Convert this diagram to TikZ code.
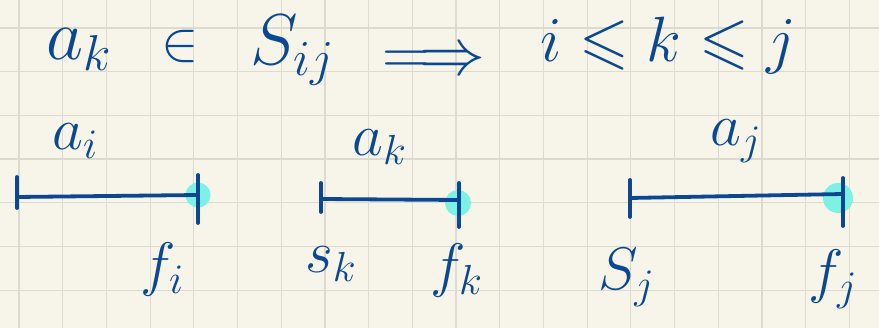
\RequirePackage{fix-cm}
\documentclass[tikz,border=0pt]{standalone}
\usepackage{amssymb}
\definecolor{paper}{RGB}{247,245,234}
\definecolor{gridline}{RGB}{221,218,207}
\definecolor{ink}{RGB}{12,72,145}
\definecolor{marker}{RGB}{125,242,228}
\begin{document}
\begin{tikzpicture}[x=1pt,y=-1pt,
  handtext/.style={text=ink, inner sep=0pt},
  headline/.style={font=\fontsize{72}{80}\selectfont},
  lbl/.style={font=\fontsize{60}{66}\selectfont},
  interval/.style={draw=ink, line width=3.8pt, line cap=round},
  gridrule/.style={draw=gridline, line width=1.2pt}]

% paper and squared grid
\fill[paper] (0,0) rectangle (879,328);
\useasboundingbox (0,0) rectangle (879,328);
\foreach \k in {0,...,19}
  \draw[gridrule] ({19+43.7*\k},0) -- ({19+43.7*\k},328);
\foreach \k in {0,...,6}
  \draw[gridrule] (0,{28+43.7*\k}) -- (879,{28+43.7*\k});

% headline statement
\node[handtext,headline,anchor=base west] (ak) at (46,60) {$a_k$};
\node[handtext,font=\fontsize{56}{60}\selectfont] (in) at (180,47) {$\in$};
\node[handtext,headline,anchor=base west] (sij) at (250,65) {$S_{ij}$};
\node[handtext,font=\fontsize{66}{70}\selectfont] (impl) at (434,62) {$\Longrightarrow$};
\node[handtext,font=\fontsize{64}{70}\selectfont,anchor=base west] (rel) at (540,62) {$i \leqslant k \leqslant j$};

% interval a_i
\coordinate (si) at (17,197);
\coordinate (fi) at (198,195);
\fill[marker] (fi) circle (12.5pt);
\draw[interval] (si) -- (fi);
\draw[interval] (si) ++(0,-20) -- ++(0,31);
\draw[interval] (fi) ++(0,-20) -- ++(0,48);

% interval a_k
\coordinate (sk) at (321,199);
\coordinate (fk) at (459,200);
\fill[marker] (458,203) circle (13pt);
\draw[interval] (sk) -- (fk);
\draw[interval] (sk) ++(0,-16) -- ++(0,29);
\draw[interval] (fk) ++(0,-17) -- ++(0,44);

% interval a_j
\coordinate (sj) at (630,198);
\coordinate (fj) at (843,194);
\fill[marker] (838,198) circle (15pt);
\draw[interval] (sj) -- (fj);
\draw[interval] (sj) ++(0,-18) -- ++(0,37);
\draw[interval] (fj) ++(0,-16) -- ++(0,48);

% interval names
\node[handtext,lbl,anchor=base west] (lai) at (52,150) {$a_i$};
\node[handtext,lbl,anchor=base west] (lak) at (352,156) {$a_k$};
\node[handtext,lbl,anchor=base west] (laj) at (710,146) {$a_j$};

% start and finish times
\node[handtext,lbl,anchor=base west] (lfi) at (140,285) {$f_i$};
\node[handtext,lbl,anchor=base west] (lsk) at (305,273) {$s_k$};
\node[handtext,lbl,anchor=base west] (lfk) at (430,286) {$f_k$};
\node[handtext,lbl,anchor=base west] (lsj) at (598,290) {$S_j$};
\node[handtext,lbl,anchor=base west] (lfj) at (808,292) {$f_j$};
\end{tikzpicture}
\end{document}
